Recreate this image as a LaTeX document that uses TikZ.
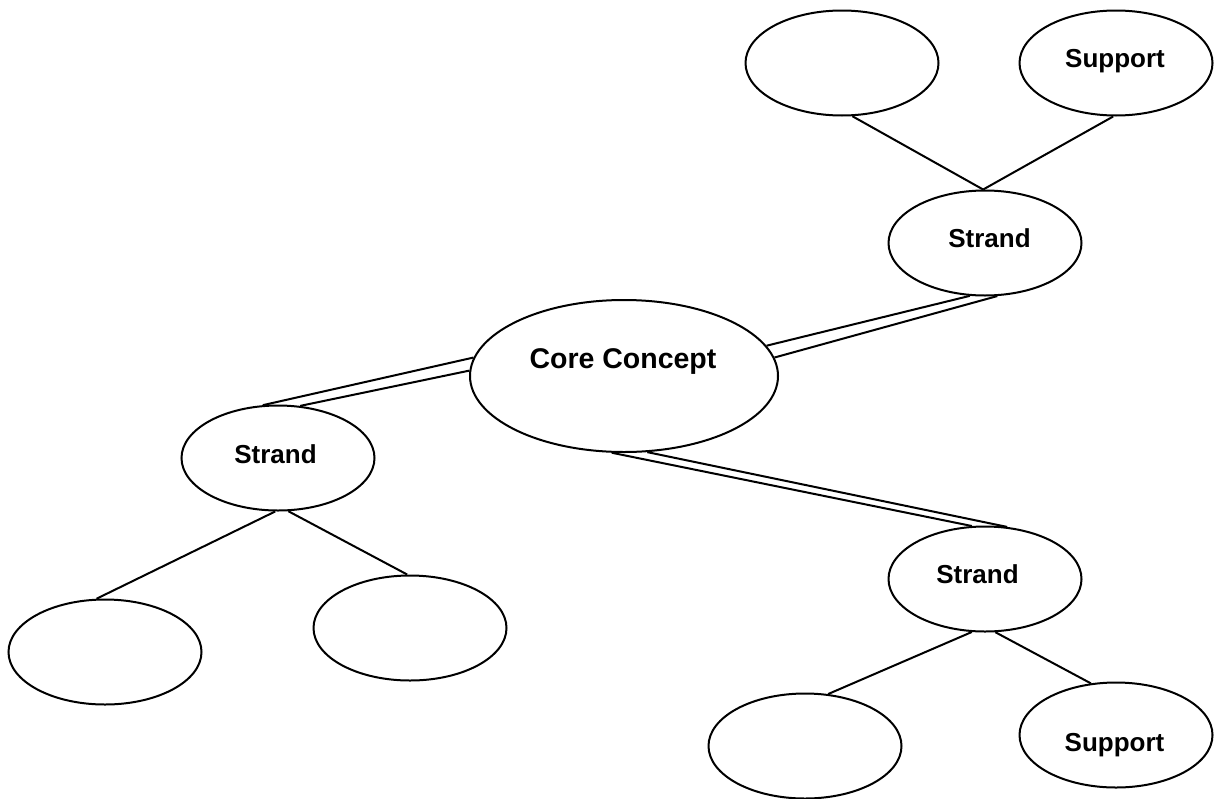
\documentclass[tikz,border=0pt]{standalone}
\usepackage{fontspec}
\setmainfont{Liberation Sans}
\usetikzlibrary{shapes.geometric,calc}
\begin{document}
\begin{tikzpicture}[x=1pt,y=-1pt,
  bubble/.style={draw=black,line width=2pt,ellipse,inner sep=0pt,minimum width=193pt,minimum height=105pt},
  corebubble/.style={draw=black,line width=2pt,ellipse,inner sep=0pt,minimum width=308pt,minimum height=152pt},
  lbl/.style={anchor=base,inner sep=0pt,font=\bfseries\fontsize{26}{30}\selectfont},
  corelbl/.style={anchor=base,inner sep=0pt,font=\bfseries\fontsize{28.5}{32}\selectfont},
  link/.style={draw=black,line width=2pt}]
\useasboundingbox (0,0) rectangle (1214,798);
% ellipses
\node[bubble] (tl) at (842,63) {};
\node[bubble] (ts) at (1116,63) {};
\node[bubble] (tstr) at (985,243) {};
\node[corebubble] (core) at (624,376) {};
\node[bubble] (lstr) at (278,458) {};
\node[bubble] (ll) at (105,652) {};
\node[bubble] (lr) at (410,628) {};
\node[bubble] (bstr) at (985,579) {};
\node[bubble] (bl) at (805,746) {};
\node[bubble] (bs) at (1116,735) {};
% labels
\node[lbl] (tsL) at ($(ts)+(-1,4)$) {Support};
\node[lbl] (tstrL) at ($(tstr)+(4.5,4)$) {Strand};
\node[corelbl] (coreL) at ($(core)+(-1,-8)$) {Core Concept};
\node[lbl] (lstrL) at ($(lstr)+(-2.5,5)$) {Strand};
\node[lbl] (bstrL) at ($(bstr)+(-7.5,4)$) {Strand};
\node[lbl] (bsL) at ($(bs)+(-1.5,16)$) {Support};
% single connectors
\draw[link] (tl.-79) -- (tstr.92);
\draw[link] (ts.-93) -- (tstr.92);
\draw[link] (lstr.-93) -- (ll.99.6);
\draw[link] (lstr.-79) -- (lr.93);
\draw[link] (bstr.-104) -- (bl.66);
\draw[link] (bstr.-79.5) -- (bs.116);
% double connectors
\draw[link] (core.12) -- (tstr.-106);
\draw[link] (core.7) -- (tstr.-77);
\draw[link] (core.173) -- (lstr.106);
\draw[link] (core.178) -- (lstr.67);
\draw[link] (core.-99) -- (bstr.104);
\draw[link] (core.-73) -- (bstr.67);
\end{tikzpicture}
\end{document}
